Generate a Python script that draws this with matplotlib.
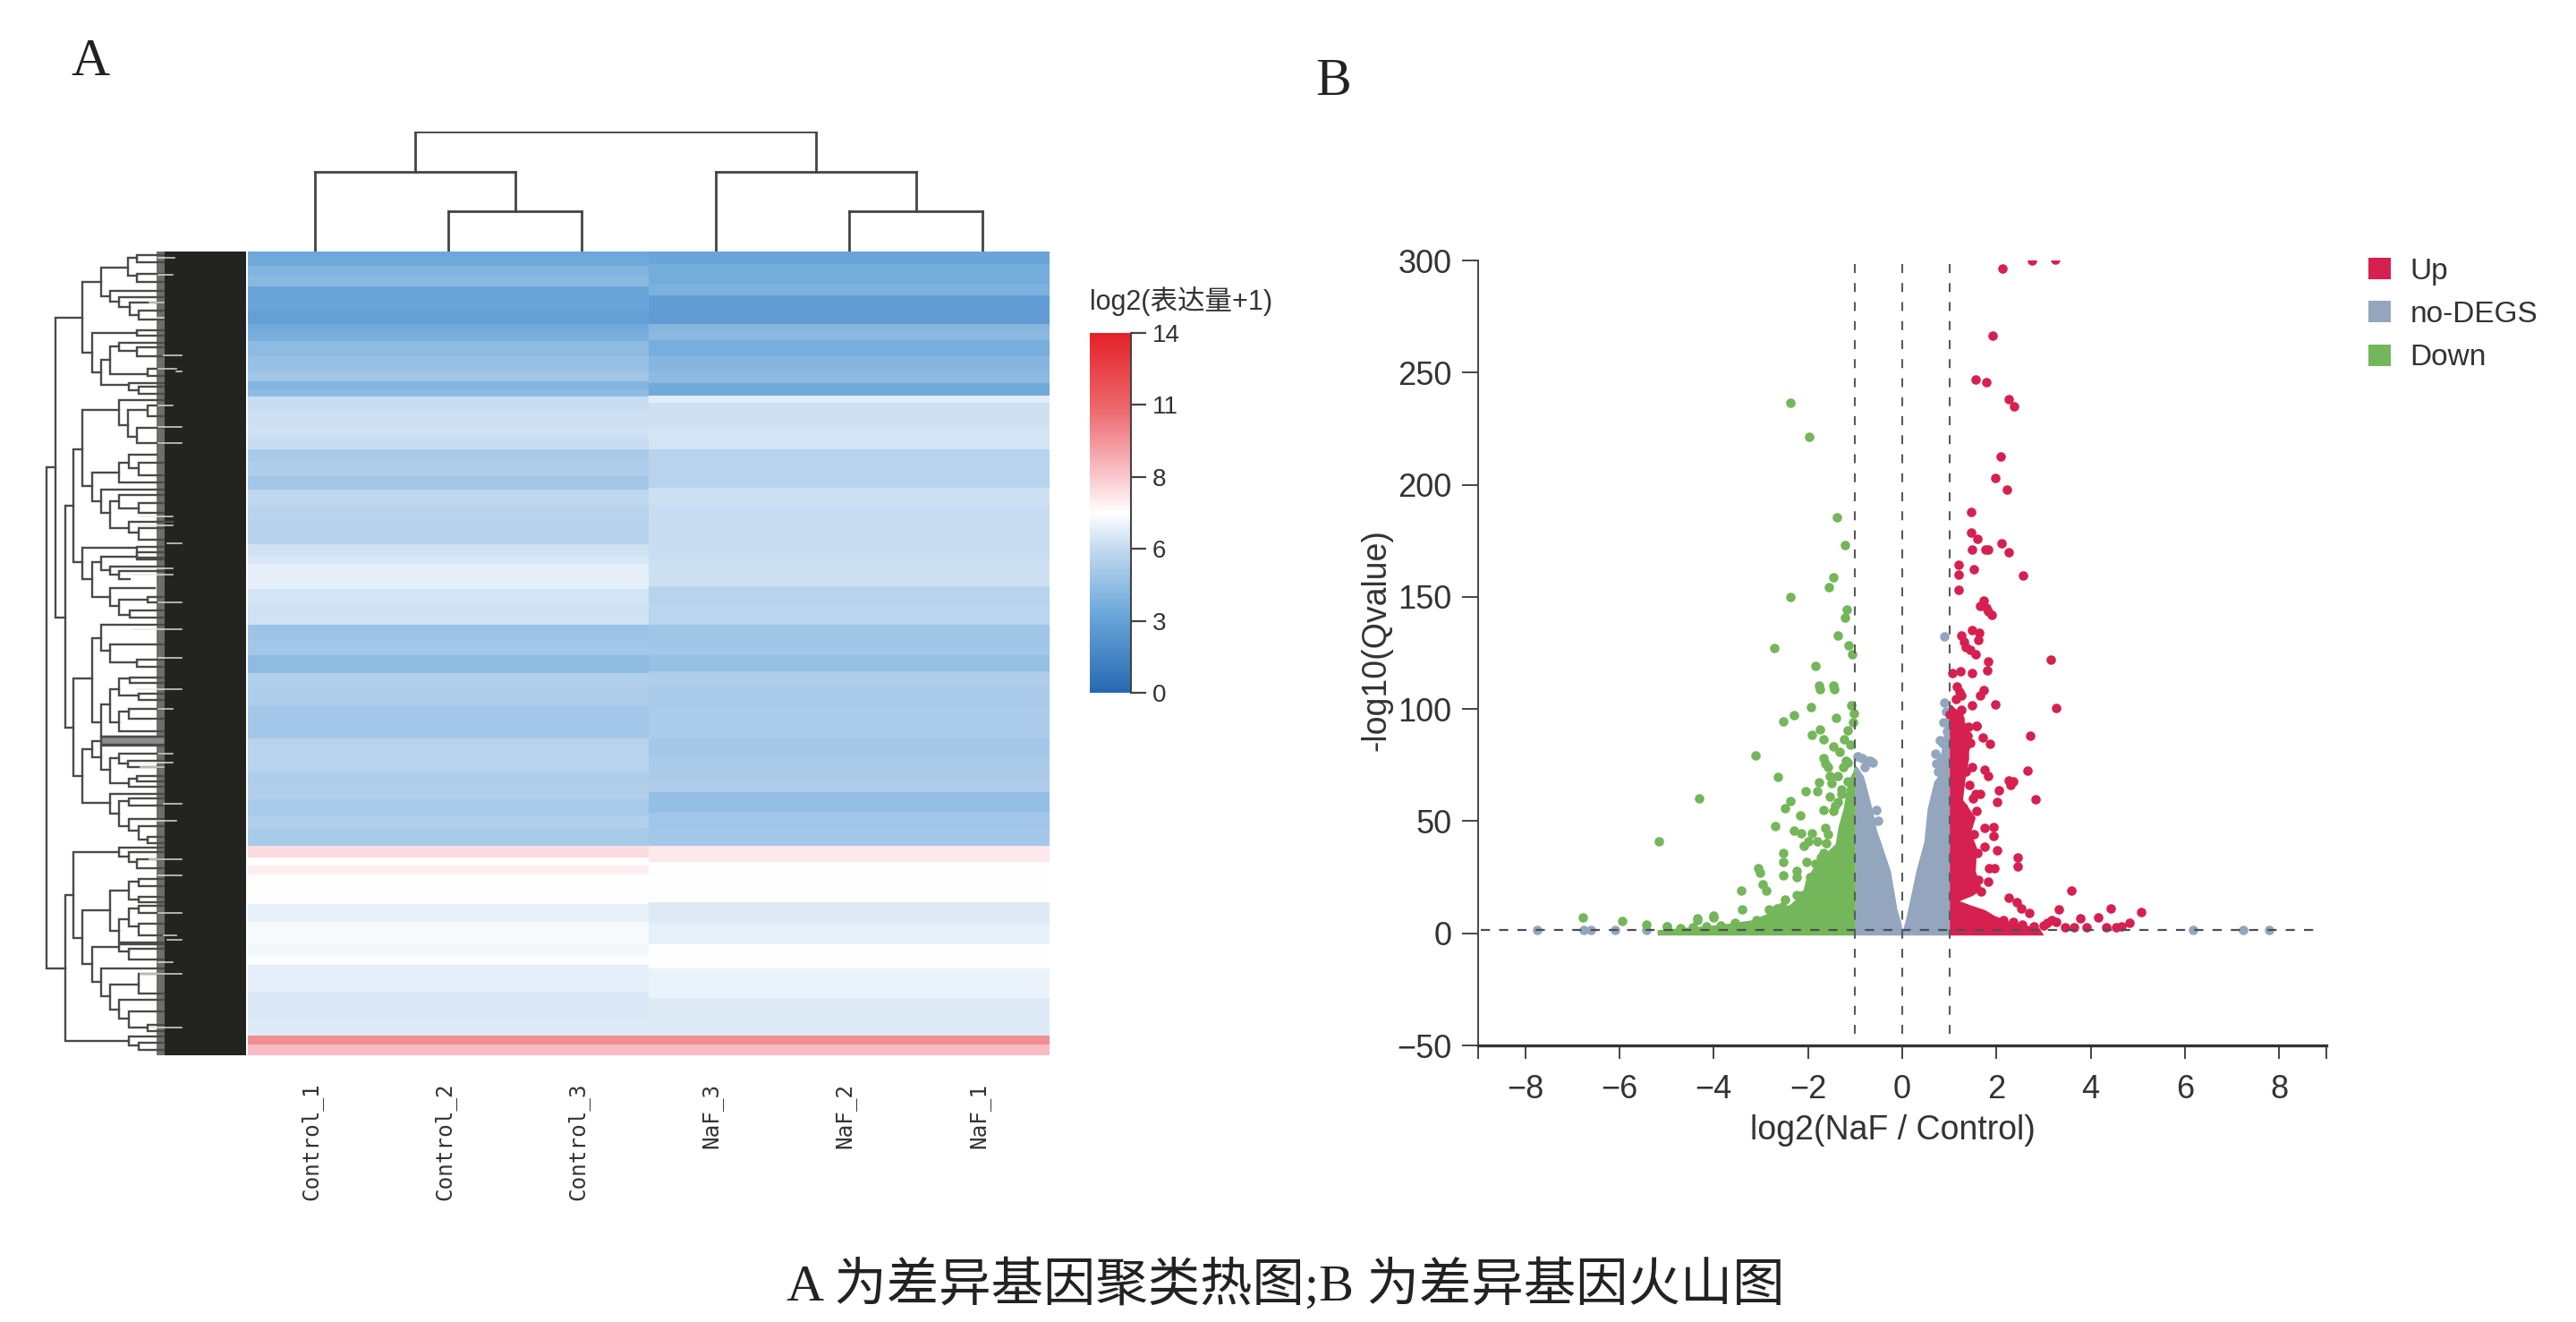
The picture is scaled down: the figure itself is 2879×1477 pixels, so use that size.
import numpy as np
import matplotlib
matplotlib.use("Agg")
import matplotlib.pyplot as plt
from matplotlib.colors import LinearSegmentedColormap, Normalize
from matplotlib.cm import ScalarMappable
from matplotlib.patches import Patch

W, H = 2879, 1477
SANS = ['Liberation Sans', 'Noto Sans CJK SC']
SERIF = ['Liberation Serif', 'Noto Sans CJK SC']

# ---------- heat map ----------
samples = ['Control_1', 'Control_2', 'Control_3', 'NaF_3', 'NaF_2', 'NaF_1']
control_edges = [18,40,65,100,135,170,215,262,285,318,370,420,452,480,505,550,600,640,680,720,770,815,870,930,1000,
                 1035,1065,1110,1150,1200,1270,1320,1350,1370,1430,1480,1540,1650,1690,1765,1815,1855,1910,1950,2010,
                 2050,2075,2105,2205,2265,2340,2380,2410,2500,2590,2645,2675,2712]
control_values = [3.1,3.2,3.7,3.9,3.0,3.0,2.7,3.2,3.4,4.1,4.3,4.6,3.7,4.1,5.7,5.8,5.9,5.7,4.8,5.0,4.7,5.5,5.3,5.2,5.9,
                  6.1,6.35,6.45,6.0,5.9,4.5,4.7,4.7,4.1,5.1,5.0,4.65,5.3,5.3,5.0,5.1,4.8,5.1,4.8,7.9,
                  7.0,7.4,7.0,6.45,6.8,6.7,6.9,6.35,6.15,6.2,10,8.7]
naf_edges = [18,60,130,165,262,285,315,370,420,460,500,525,600,680,810,870,950,1050,1140,1200,1270,1350,
             1370,1425,1480,1550,1650,1710,1790,1830,1900,1950,2010,2065,2200,2270,2340,2420,2520,2645,2675,2712]
naf_values = [3.0,3.3,3.6,2.6,3.8,4.0,3.4,3.8,4.0,3.2,6.3,5.8,6.0,5.3,5.8,5.7,5.7,5.8,5.3,5.35,4.55,
              4.7,4.3,5.0,4.85,4.9,4.7,4.85,5.0,4.25,4.6,4.7,7.6,6.95,6.2,6.45,7,6.55,6.2,10,8.7]

cbar_stops = [0, 3, 5.6, 7, 8.4, 11, 14]
cbar_colors = ['#2769b2', '#6aa6d9', '#c3daf0', '#ffffff', '#f9c8ce', '#ec6a6e', '#e6212a']
cbar_ticks = [0, 2.8, 5.6, 8.4, 11.2, 14]
cbar_labels = ['0', '3', '6', '8', '11', '14']

# ---------- sample dendrogram: left, right, height ----------
col_left = [1.0, 0.0, 4.0, 3.0, 0.75]
col_right = [2.0, 1.5, 5.0, 4.5, 3.75]
col_height = [1, 2, 1, 2, 3]

# ---------- gene dendrogram: (depth, top row, bottom row, top child depth, bottom child depth) ----------
gene_root = [(35,742,2422,65,98),(65,240,1245,155,98),(98,870,1615,125,125),(98,2175,2663,125,312)]
gene_a = [(155,120,357,218,188),(218,72,168,308,250),(308,40,100,340,340),(340,30,55,430,430),(340,92,120,430,430),
          (250,150,185,430,280),(280,170,205,430,315),(315,190,232,430,345),(345,215,245,430,430),
          (188,290,422,340,218),(340,282,300,430,430),(218,380,465,250,312),(250,335,428,280,375),(280,325,350,430,340),
          (340,340,370,430,430),(375,410,435,430,430),(312,458,482,430,345),(345,470,495,430,430)]
gene_b = [(125,680,1060,155,155),(155,550,805,280,188),(280,515,600,430,310),(310,550,640,375,340),(375,535,570,430,430),
          (340,610,660,430,430),(188,760,855,280,218),(280,725,792,312,430),(312,700,745,405,345),(345,725,768,430,430),
          (218,815,895,430,250),(250,855,945,280,312),(280,835,880,430,345),(345,860,895,430,430),(312,925,960,460,345),
          (345,945,985,430,430)]
gene_c = [(155,1010,1115,340,188),(340,1008,1045,430,430),(188,1060,1175,218,250),(218,1040,1085,340,250),
          (340,1025,1050,430,430),(250,1075,1100,430,280),(280,1090,1115,430,315),(250,1145,1205,400,280),
          (280,1185,1235,375,315),(375,1175,1195,430,430),(315,1220,1245,430,430)]
gene_d = [(125,1450,1777,188,155),(188,1315,1595,218,218),(218,1270,1355,430,250),(250,1335,1395,430,340),
          (340,1385,1410,430,430),(218,1535,1645,250,430),(250,1485,1595,280,280),(280,1450,1505,315,345),
          (315,1445,1465,430,430),(345,1500,1520,430,430),(280,1560,1625,312,430),(312,1550,1585,430,430),
          (155,1685,1867,188,250),(188,1660,1712,218,218),(218,1645,1670,430,430),(218,1675,1755,430,250),
          (250,1715,1800,280,312),(280,1700,1735,430,310),(310,1725,1745,430,430),(312,1785,1812,340,430),
          (340,1775,1795,430,430),(250,1837,1902,430,280),(280,1860,1945,312,312),(312,1850,1875,430,430),
          (312,1920,1960,430,345),(345,1945,1990,430,375),(375,1980,2000,430,430)]
gene_e = [(125,2032,2318,280,155),(280,2015,2045,430,312),(312,2030,2065,430,340),(340,2055,2085,430,430),
          (155,2225,2407,250,188),(250,2160,2295,312,280),(312,2130,2190,345,345),(345,2120,2145,430,430),
          (345,2180,2200,430,430),(280,2255,2335,312,430),(312,2220,2280,345,345),(345,2210,2235,430,430),
          (345,2270,2310,430,430),(188,2350,2465,280,218),(280,2340,2365,430,312),(312,2355,2390,430,430),
          (218,2420,2515,430,250),(250,2475,2560,345,280),(345,2440,2505,430,430),(280,2525,2590,430,312),
          (312,2565,2620,430,375),(375,2610,2630,430,430),(312,2650,2680,430,345),(345,2670,2695,430,430)]
# light gaps between the dense leaves: row, start depth, end depth
gene_gaps = [(38,410,465),(95,410,460),(190,380,430),(240,380,430),(365,430,490),(410,410,470),(420,470,490),(535,410,460),
             (605,410,490),(660,410,490),(905,350,460),(935,345,460),(995,440,490),(1080,280,460),(1100,320,460),
             (1195,410,490),(1285,320,490),(1380,410,490),(1485,340,490),(1550,410,460),(1700,410,460),(1730,320,460),
             (1745,350,430),(1870,430,490),(1925,350,470),(2055,380,490),(2110,410,490),(2235,410,490),(2310,430,470),
             (2325,440,490),(2400,410,460),(2440,350,490),(2620,380,490)]

# ---------- volcano ----------
down_x = [-2.38,-1.98,-1.38,-1.22,-1.47,-1.56,-2.38,-1.18,-1.22,-1.37,-2.72,-1.13,-1.07,-1.84,-1.77,-1.47,-1.45,-1.75,
          -1.94,-1.09,-1.03,-2.30,-2.53,-1.41,-1.74,-1.91,-1.67,-1.16,-1.23,-1.47,-1.33,-1.20,-3.12,-1.67,-1.64,-1.57,
          -2.63,-1.53,-1.36,-1.16,-1.50,-1.76,-2.06,-1.80,-1.53,-1.36,-4.31,-2.38,-2.48,-1.67,-1.47,-2.16,-2.70,-1.64,
          -2.30,-2.14,-1.91,-1.80,-2.08,-2.00,-5.17,-2.52,-2.52,-1.67,-2.04,-3.06,-3.02,-2.24,-2.24,-2.52,-2.96,-2.89,
          -3.41,-2.11,-2.48,-3.40,-2.82,-2.65,-4.00,-4.34,-4.99,-6.78,-5.94,-5.43,-5.00,-4.34,-4.00,-1.05,-1.10,-1.15,
          -1.25,-1.30,-1.42,-1.58,-1.85,-1.95,-2.25,-2.55,-2.78,-3.10,-3.55,-3.85,-4.15,-4.45,-4.70,-1.62,-1.72,-1.29]
down_y = [236.6,221.4,185.5,173,158.8,154.2,149.8,144.3,140.6,132.6,127.1,128.4,124.4,119.1,110.3,110.5,108.9,108.9,
          100.9,101.6,98.2,97.2,94.5,96.2,90.9,88.5,86.3,90.3,86.3,83.2,80.9,77,79.4,78.3,75.6,74.3,
          69.9,70.3,70.3,67.7,67,67.3,63.4,63.3,61,58.4,60.1,59,55.7,55,54.4,52.4,47.7,47,
          45.7,44.4,44.7,41,39.1,41,41.1,35.8,31.8,35.8,31.8,29.1,27.1,27.8,25.1,25.8,21.8,19.2,
          19.2,17.2,15.2,10.5,10.5,11.2,7.9,6.5,3.2,6.9,5.4,3.9,3.2,6,7,94,84,76,
          74,62,57,44,31,25,17,12,9,6,4.5,3.5,3,2.5,2.2,40,34,64]
up_x = [2.13,2.75,3.24,1.92,1.55,1.78,2.26,2.38,2.08,1.97,2.23,1.47,1.47,1.59,1.49,1.76,1.83,2.11,2.25,1.19,1.19,1.52,2.56,
        1.19,1.73,1.66,1.78,1.82,1.90,1.49,1.64,1.26,1.61,1.31,1.35,1.45,1.56,1.83,1.80,1.49,1.23,1.07,3.16,1.73,1.66,
        1.21,1.14,3.27,1.97,1.48,1.26,1.00,1.21,1.57,2.72,1.71,1.87,1.58,2.66,1.75,1.82,2.26,2.36,2.29,2.05,2.83,2.01,
        1.55,1.65,1.48,1.58,1.75,1.94,1.94,1.75,2.02,2.45,2.45,1.85,1.95,1.82,1.68,3.58,2.26,2.43,2.53,2.70,3.32,4.43,
        5.07,3.78,4.15,4.82,4.66,3.17,3.07,3.27,3.64,3.92,4.32,4.53,2.15,2.35,2.55,2.80,3.00,3.45,1.40,1.45,1.30,1.35,
        1.42,1.50,1.30,1.38,1.52,1.60,1.62,1.25,1.15,1.20,1.10,1.38,1.33,1.28]
up_y = [296.6,300,300.3,266.4,246.9,245.8,238.2,235,212.6,203,198,187.8,178.7,176,171,171,171,173.8,170,164.2,159.9,162.3,159.6,
        153,148.2,145.9,145.1,143.6,142,135.2,134,132.9,130.6,129.8,127.6,126.3,124.5,121.1,117.2,116.1,116.9,116.1,122.2,108.5,105.9,
        107.7,104.4,100.4,101.9,101.6,99.8,97.8,95.5,92.5,87.9,87.2,84.3,92.6,72.7,73,70.3,68.3,67.7,66,63.7,59.7,58.4,
        62.3,62,74.3,54.4,47,47.3,43.5,38.4,37.1,33.8,29.8,29.1,29.1,22.9,18.5,19.2,15.8,13.8,11.2,9.2,10.5,11.2,
        9.6,6.8,7.2,4.5,3.2,5.9,4.5,5.2,2.5,2.5,2.5,2.5,6,5,4,3,3.5,2.5,92,85,80,72,
        66,60,56,50,44,36,24,106,110,98,93,88,83,76]
nodeg_x = [-7.75,-6.76,-6.6,-6.09,-5.43,6.18,7.23,7.79,0.90,-0.95,-0.85,-0.75,-0.68,-0.80,-0.62,0.70,0.73,0.80,0.87,0.90,0.93,0.95,0.86,0.84,0.76,-0.56,-0.52]
nodeg_y = [1.6,1.6,1.6,1.6,1.6,1.6,1.6,1.6,132.5,79,78,77,77,74,76,80,75.6,86,94,103,99,90,85,78,72,55,50]
nodeg_left_x = [-1.0,-0.95,-0.82,-0.69,-0.58,-0.55,-0.42,-0.25,-0.11,-0.03,0.0]
nodeg_left_top = [75,74,70,59.7,50,46.4,38.4,27.8,10.5,5,1]
nodeg_right_x = [0.0,0.04,0.09,0.29,0.46,0.53,0.67,0.75,0.85,0.95,1.0]
nodeg_right_top = [1,4,8,27.8,41,55.7,67.7,70,85,100,100]
down_mass_x = [-5.2,-4.68,-3.87,-3.2,-2.85,-2.38,-2.12,-2.05,-1.9,-1.75,-1.57,-1.42,-1.36,-1.25,-1.16,-1.05,-1.0]
down_mass_top = [1.6,2.5,3.9,6,9,13,18,24,29,32,37,40,47.7,56,67.7,72,76]
up_mass_y = [-0.8,2.5,5,8,10.5,13,14.5,17,19.8,27.8,38,45,51.7,59.7,70,78,89,97,102]
up_mass_right = [3.0,2.9,2.3,1.95,1.75,1.4,1.21,1.5,1.68,1.55,1.58,1.45,1.55,1.28,1.34,1.41,1.41,1.28,1.04]
thresholds_x = [-1, 0, 1]
threshold_y = 1.6
x_ticks = [-8, -6, -4, -2, 0, 2, 4, 6, 8]
y_ticks = [-50, 0, 50, 100, 150, 200, 250, 300]
legend_labels = ['Up', 'no-DEGS', 'Down']

RED, GREY, GREEN = '#d6204f', '#93a6bd', '#74b65a'
DARK = '#23231f'


def px_axes(fig, x0, y0, x1, y1, **kw):
    return fig.add_axes([x0 / W, 1 - y1 / H, (x1 - x0) / W, (y1 - y0) / H], **kw)


fig = plt.figure(figsize=(W / 100, H / 100), dpi=100, facecolor='white')

# heat map
cmap = LinearSegmentedColormap.from_list('expr', [(s / 14, c) for s, c in zip(cbar_stops, cbar_colors)])
norm = Normalize(0, 14)
ax = px_axes(fig, 277, 281, 1173, 1179)
ax.pcolormesh([0, 1, 2, 3], control_edges, np.column_stack([control_values] * 3), cmap=cmap, norm=norm, linewidth=0)
ax.pcolormesh([3, 4, 5, 6], naf_edges, np.column_stack([naf_values] * 3), cmap=cmap, norm=norm, linewidth=0)
ax.set_xlim(0, 6)
ax.set_ylim(2712, 18)
ax.axis('off')
for i, name in enumerate(samples):
    ax.annotate(name, xy=(i + 0.5, 0), xycoords=('data', 'axes fraction'), xytext=(-3, -22),
                textcoords='offset points', rotation=90, ha='center', va='top',
                family='DejaVu Sans Mono', fontsize=17.5, color='#333333')

# sample dendrogram
ax = px_axes(fig, 277, 147, 1173, 281)
for l, r, h, i in zip(col_left, col_right, col_height, range(5)):
    low = {0: (1, 1), 1: (1, 2 - 1), 2: (0, 1), 3: (1, 1), 4: (2, 2)}
    ax.plot([l + .5, l + .5], [[0, 0, 0, 0, 2][i], h], color='#444444', lw=2, solid_capstyle='projecting')
    ax.plot([r + .5, r + .5], [[0, 1, 0, 1, 2][i], h], color='#444444', lw=2, solid_capstyle='projecting')
    ax.plot([l + .5, r + .5], [h, h], color='#444444', lw=2, solid_capstyle='projecting')
ax.set_xlim(0, 6)
ax.set_ylim(0, 3)
ax.axis('off')

# gene dendrogram
ax = px_axes(fig, 40, 281, 277, 1179)
ax.fill_betweenx([18, 2712], 405, 432, color='#6e6e6a', lw=0)
ax.fill_betweenx([18, 2712], 432, 705, color=DARK, lw=0)
ax.fill_between([218, 430], 1645, 1670, color='#8a8a8a', lw=0)
for group in (gene_root, gene_a, gene_b, gene_c, gene_d, gene_e):
    for x, top, bot, xt, xb in group:
        ax.plot([xt, x, x, xb], [top, top, bot, bot], color='#4a4a48', lw=1.7, solid_joinstyle='miter')
for y, x0, x1 in gene_gaps:
    ax.plot([x0, x1], [y, y], color='#e8e8e8', lw=1.2, alpha=.85)
ax.set_xlim(0, 711)
ax.set_ylim(2712, 18)
ax.axis('off')

# colour bar
cax = px_axes(fig, 1218, 372, 1264, 774)
cb = fig.colorbar(ScalarMappable(norm=norm, cmap=cmap), cax=cax, ticks=cbar_ticks)
cb.ax.set_yticklabels(cbar_labels)
cb.ax.tick_params(length=12, width=1.6, color='#444444', labelsize=20, labelcolor='#333333', pad=5)
for lab in cb.ax.get_yticklabels():
    lab.set_family(SANS)
cb.outline.set_visible(False)
cb.ax.spines['right'].set_visible(True)
cb.ax.spines['right'].set_color('#444444')
cb.ax.spines['right'].set_linewidth(1.5)
fig.text(1218 / W, 1 - 337 / H, 'log2(表达量+1)', family=SANS, fontsize=22, color='#333333', va='center')

# volcano
ax = px_axes(fig, 1652, 291, 2600, 1168)
ax.fill_between(nodeg_left_x, -0.8, nodeg_left_top, color=GREY, lw=0)
ax.fill_between(nodeg_right_x, -0.8, nodeg_right_top, color=GREY, lw=0)
ax.scatter(nodeg_x, nodeg_y, s=58, color=GREY, lw=0)
ax.fill_between(down_mass_x, -0.8, down_mass_top, color=GREEN, lw=0)
ax.scatter(down_x, down_y, s=58, color=GREEN, lw=0)
ax.fill_betweenx(up_mass_y, 1, up_mass_right, color=RED, lw=0)
ax.scatter(up_x, up_y, s=58, color=RED, lw=0)
ax.plot([-8.95, 8.77], [threshold_y, threshold_y], color='#4a4f55', lw=1.6, dashes=(4.6, 4.6))
for xv in thresholds_x:
    ax.plot([xv, xv], [-45, 300], color='#5a5a5a', lw=1.5, dashes=(4.8, 5.4))
ax.set_xlim(-9, 9)
ax.set_ylim(-50, 300)
ax.set_xticks(x_ticks)
ax.set_xticks([-9, 9], minor=True)
ax.set_yticks(y_ticks)
ax.tick_params(axis='x', which='both', length=11, width=1.4, color='#444444', labelsize=26, labelcolor='#333333', pad=12)
ax.tick_params(axis='y', length=13, width=1.4, color='#444444', labelsize=26, labelcolor='#333333', pad=8)
for lab in ax.get_xticklabels() + ax.get_yticklabels():
    lab.set_family(SANS)
for s in ('top', 'right'):
    ax.spines[s].set_visible(False)
ax.spines['left'].set_color('#444444')
ax.spines['left'].set_linewidth(1.4)
ax.spines['bottom'].set_color('#333333')
ax.spines['bottom'].set_linewidth(2.4)
ax.patch.set_alpha(0)
fig.text(2115 / W, 1 - 1263 / H, 'log2(NaF / Control)', family=SANS, fontsize=27, color='#333333', ha='center', va='center')
fig.text(1538 / W, 1 - 715 / H, '-log10(Qvalue)', family=SANS, fontsize=27, color='#333333', rotation=90, ha='center', va='center')

# legend
fig.legend(handles=[Patch(color=c, lw=0) for c in (RED, GREY, GREEN)], labels=legend_labels,
           loc='upper left', bbox_to_anchor=(2640 / W, 1 - 281 / H), frameon=False,
           prop={'family': SANS, 'size': 24}, labelcolor='#333333', handlelength=0.75, handleheight=0.72,
           handletextpad=0.65, labelspacing=0.52, borderpad=0.2, borderaxespad=0)

# panel letters and caption
fig.text(101 / W, 1 - 70 / H, 'A', family=SERIF, fontsize=43, color='#222222', ha='center', va='center')
fig.text(1490 / W, 1 - 92 / H, 'B', family=SERIF, fontsize=43, color='#222222', ha='center', va='center')
fig.text(1437 / W, 1 - 1435 / H, 'A 为差异基因聚类热图;B 为差异基因火山图', family=SERIF, fontsize=42,
         color='#222222', ha='center', va='center')

fig.savefig('out.png', dpi=100, facecolor='white')
